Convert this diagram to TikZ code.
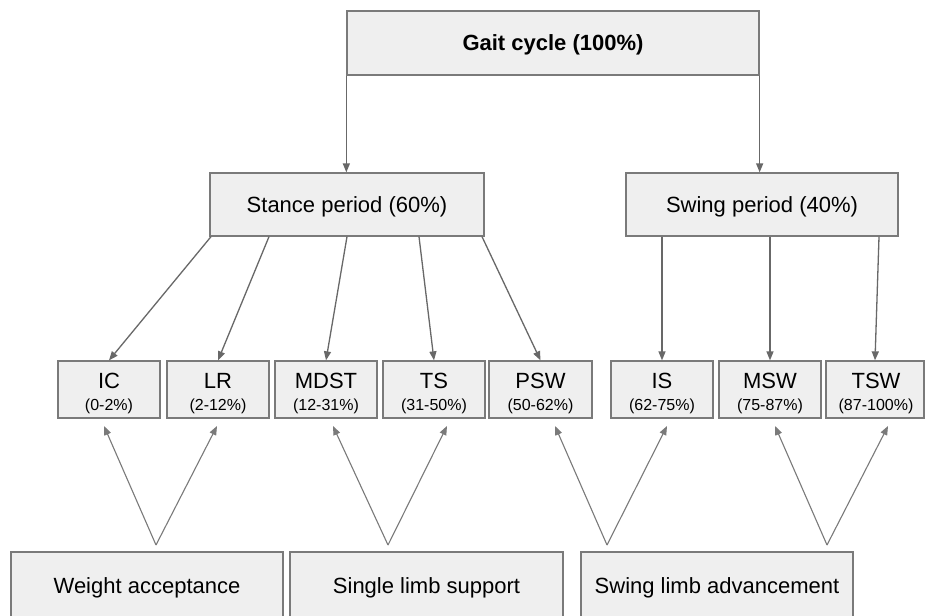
\documentclass[tikz,border=0pt]{standalone}
\usepackage{fontspec}
\setmainfont{Liberation Sans}
\usetikzlibrary{arrows.meta}
\definecolor{boxfill}{HTML}{EFEFEF}
\definecolor{boxline}{HTML}{7A7A7A}
\definecolor{arrowc}{HTML}{686868}
\definecolor{vline}{HTML}{7A7A7A}
\tikzset{
  box/.style={draw=boxline, fill=boxfill, line width=1.3pt, inner sep=0pt,
    text height=16pt, text depth=0pt, font=\fontsize{22}{26}\selectfont},
  smallbox/.style={box, minimum width=102pt, minimum height=57pt},
  bigtext/.style={font=\fontsize{22}{26}\selectfont, inner sep=0pt, anchor=base},
  pcttext/.style={font=\fontsize{16}{19}\selectfont, inner sep=0pt, anchor=base},
  arr/.style={draw=arrowc, line width=1.3pt, -{Triangle[length=9pt,width=7pt]}},
  varr/.style={draw=vline, line width=1.1pt, -{Triangle[length=9pt,width=7pt]}}
}
\begin{document}
\begin{tikzpicture}[x=1pt,y=-1pt]
\useasboundingbox (0,0) rectangle (925,615);
\fill[white] (0,0) rectangle (925,615);
% top
\node[box, minimum width=412pt, minimum height=64pt] (title) at (553,43) {\bfseries Gait cycle (100\%)};
\node[box, minimum width=274pt, minimum height=63pt] (stance) at (347,204.5) {Stance period (60\%)};
\node[box, minimum width=272pt, minimum height=63pt] (swing) at (762,204.5) {Swing period (40\%)};
\draw[arr] (title.south west) -- (title.south west |- stance.north);
\draw[arr] (title.south east) -- (title.south east |- swing.north);
% small boxes
\node[smallbox] (ic) at (109,389.5) {};
\node[smallbox] (lr) at (218,389.5) {};
\node[smallbox] (mdst) at (326,389.5) {};
\node[smallbox] (ts) at (434,389.5) {};
\node[smallbox, minimum width=103pt] (psw) at (540.5,389.5) {};
\node[smallbox] (is) at (662,389.5) {};
\node[smallbox] (msw) at (770,389.5) {};
\node[smallbox, minimum width=98pt] (tsw) at (875,389.5) {};
\node[bigtext] (icn) at (109,388) {IC};
\node[pcttext] (icp) at (109,410) {(0-2\%)};
\node[bigtext] (lrn) at (218,388) {LR};
\node[pcttext] (lrp) at (218,410) {(2-12\%)};
\node[bigtext] (mdstn) at (326,388) {MDST};
\node[pcttext] (mdstp) at (326,410) {(12-31\%)};
\node[bigtext] (tsn) at (434,388) {TS};
\node[pcttext] (tsp) at (434,410) {(31-50\%)};
\node[bigtext] (pswn) at (540.5,388) {PSW};
\node[pcttext] (pswp) at (540.5,410) {(50-62\%)};
\node[bigtext] (isn) at (662,388) {IS};
\node[pcttext] (isp) at (662,410) {(62-75\%)};
\node[bigtext] (mswn) at (770,388) {MSW};
\node[pcttext] (mswp) at (770,410) {(75-87\%)};
\node[bigtext] (tswn) at (876,388) {TSW};
\node[pcttext] (tswp) at (876,410) {(87-100\%)};
% arrows from stance / swing
\draw[arr] ([xshift=-136pt]stance.south) -- (ic.north);
\draw[arr] ([xshift=-78pt]stance.south) -- (lr.north);
\draw[arr] (stance.south) -- (mdst.north);
\draw[arr] ([xshift=72pt]stance.south) -- (ts.north);
\draw[arr] ([xshift=135pt]stance.south) -- (psw.north);
\draw[arr] ([xshift=-100pt]swing.south) -- (is.north);
\draw[arr] ([xshift=8pt]swing.south) -- (msw.north);
\draw[arr] ([xshift=117pt]swing.south) -- (tsw.north);
% bottom boxes
\node[box, minimum width=272pt, minimum height=66pt] (wa) at (147,585) {Weight acceptance};
\node[box, minimum width=273pt, minimum height=66pt] (sls) at (426.5,585) {Single limb support};
\node[box, minimum width=272pt, minimum height=66pt] (sla) at (717,585) {Swing limb advancement};
% V arrows
\coordinate (a1) at (156,545);
\coordinate (a2) at (388,545);
\coordinate (a3) at (607,545);
\coordinate (a4) at (827,545);
\coordinate (t1) at (104,426);
\coordinate (t2) at (217,426);
\coordinate (t3) at (333,426);
\coordinate (t4) at (447,426);
\coordinate (t5) at (555,426);
\coordinate (t6) at (667,426);
\coordinate (t7) at (775,426);
\coordinate (t8) at (888,426);
\draw[varr] (a1) -- (t1);
\draw[varr] (a1) -- (t2);
\draw[varr] (a2) -- (t3);
\draw[varr] (a2) -- (t4);
\draw[varr] (a3) -- (t5);
\draw[varr] (a3) -- (t6);
\draw[varr] (a4) -- (t7);
\draw[varr] (a4) -- (t8);
\end{tikzpicture}
\end{document}
